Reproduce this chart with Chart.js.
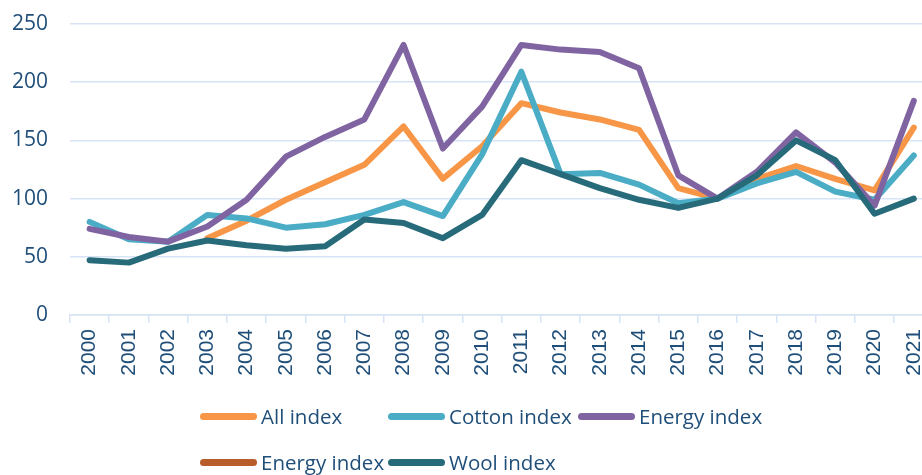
<!DOCTYPE html>
<html>
<head>
<meta charset="utf-8">
<title>Price indices 2000-2021</title>
<script src="https://cdn.jsdelivr.net/npm/chart.js@4/dist/chart.umd.min.js"></script>
<style>
  html, body { margin: 0; padding: 0; background: #fff; }
  body { width: 922px; height: 475px; overflow: hidden; position: relative; }
  #wrap { position: absolute; left: 0; top: 0; width: 945px; height: 400px; }
  #legend { position: absolute; left: 0; top: 0; width: 922px; height: 475px; pointer-events: none; }
  .item { position: absolute; display: flex; align-items: center; height: 30px;
          font-family: "Open Sans", sans-serif; font-size: 20.5px; color: #1F4E79; white-space: nowrap; }
  .swatch { display: inline-block; width: 57px; height: 7px; border-radius: 4px; margin-right: 4px; }
</style>
</head>
<body>
<div id="wrap"><canvas id="chart" width="945" height="400"></canvas></div>
<div id="legend"></div>
<script>
// categories
const years = ['2000', '2001', '2002', '2003', '2004', '2005', '2006', '2007', '2008', '2009', '2010',
  '2011', '2012', '2013', '2014', '2015', '2016', '2017', '2018', '2019', '2020', '2021'];

// series values
const allIndex = [null, null, null, 66, 81, 99, 114, 129, 162, 117, 145,
  182, 174, 168, 159, 109, 100, 117, 128, 117, 107, 161];
const cottonIndex = [80, 65, 63, 86, 83, 75, 78, 86, 97, 85, 138,
  209, 121, 122, 112, 96, 100, 113, 123, 106, 99, 137];
const energyIndex = [74, 67, 63, 76, 99, 136, 153, 168, 232, 143, 179,
  232, 228, 226, 212, 120, 100, 123, 157, 131, 94, 184];
const energyIndex2 = years.map(() => null);
const woolIndex = [47, 45, 57, 64, 60, 57, 59, 82, 79, 66, 86,
  133, 121, 109, 99, 92, 100, 120, 150, 133, 87, 100];

// y tick labels
const yTicks = [0, 50, 100, 150, 200, 250];

const seriesNames = ['All index', 'Cotton index', 'Energy index', 'Energy index', 'Wool index'];
const seriesData = [allIndex, cottonIndex, energyIndex, energyIndex2, woolIndex];
const seriesColors = ['#F79646', '#4BACC6', '#8064A2', '#B85C2A', '#276B7A'];

const textColor = '#1F4E79';
const gridColor = '#D6E4F5';

const datasets = seriesNames.map((name, i) => ({
  label: name,
  data: seriesData[i],
  borderColor: seriesColors[i],
  backgroundColor: seriesColors[i],
  borderWidth: 6,
  borderCapStyle: 'round',
  borderJoinStyle: 'round',
  pointRadius: 0,
  tension: 0,
  fill: false,
  spanGaps: false,
  order: seriesNames.length - i  // later series on top, like the original
}));

const chart = new Chart(document.getElementById('chart'), {
  type: 'line',
  data: { labels: years, datasets },
  options: {
    responsive: false,
    devicePixelRatio: 1,
    animation: false,
    layout: { padding: { top: 24, right: 0, left: 0, bottom: 0 } },
    plugins: { legend: { display: false }, tooltip: { enabled: false } },
    scales: {
      x: {
        offset: true,
        grid: {
          offset: true,
          drawOnChartArea: false,
          drawTicks: true,
          tickLength: 8,
          color: gridColor,
          lineWidth: 1.5
        },
        border: { display: true, color: gridColor, width: 1.5 },
        ticks: {
          minRotation: 90,
          maxRotation: 90,
          autoSkip: false,
          padding: 6,
          color: textColor,
          font: { family: '"Liberation Sans", Arial, sans-serif', size: 21 }
        },
        afterFit: (scale) => { scale.height = 85; }
      },
      y: {
        min: yTicks[0],
        max: yTicks[yTicks.length - 1],
        afterBuildTicks: (scale) => { scale.ticks = yTicks.map(v => ({ value: v })); },
        grid: { color: gridColor, lineWidth: 1.5, drawTicks: false },
        border: { display: false },
        ticks: {
          padding: 22,
          color: textColor,
          font: { family: '"Open Sans", sans-serif', size: 21 }
        },
        afterFit: (scale) => {
          scale.width = 70;
          // the tick padding would otherwise push the plot top down
          scale.paddingTop = 0;
          scale.paddingBottom = 0;
        }
      }
    }
  }
});

// legend laid out in columns like the original
const legendCols = [200, 388, 578];
const legendRows = [401, 447];
const legendBox = document.getElementById('legend');
chart.data.datasets.forEach((ds, i) => {
  const item = document.createElement('div');
  item.className = 'item';
  item.style.left = legendCols[i % 3] + 'px';
  item.style.top = legendRows[Math.floor(i / 3)] + 'px';
  item.innerHTML = `<span class="swatch" style="background:${ds.borderColor}"></span>${ds.label}`;
  legendBox.appendChild(item);
});
</script>
</body>
</html>
